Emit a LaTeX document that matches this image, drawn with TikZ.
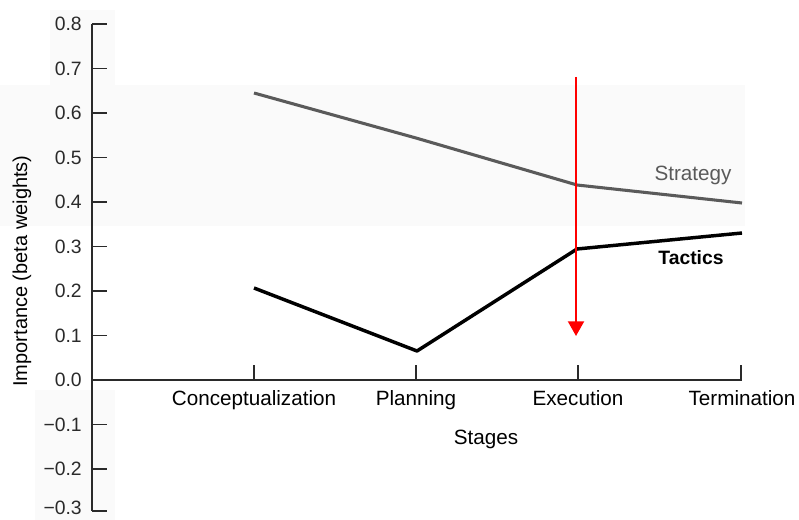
\documentclass[tikz,border=0pt]{standalone}
\usepackage{fontspec}
\setmainfont{Liberation Sans}
\usetikzlibrary{arrows.meta}
\definecolor{stratgray}{HTML}{5A5A5A}
\definecolor{axisgray}{HTML}{2A2A2A}
\definecolor{bandgray}{HTML}{FAFAFA}
\tikzset{
  ticklab/.style={anchor=east, inner sep=0pt, font=\fontsize{14.5}{17}\selectfont, text=axisgray},
  stagelab/.style={anchor=base, inner sep=0pt, font=\fontsize{15.5}{18}\selectfont},
  axisline/.style={draw=axisgray, line width=1.2pt},
  strategyline/.style={draw=stratgray, line width=2.3pt, line join=round},
  tacticsline/.style={draw=black, line width=2.6pt, line join=round},
  marker/.style={draw=red, line width=1.5pt, -{Triangle[width=12pt,length=11pt]}}
}
\begin{document}
\begin{tikzpicture}[x={(0.75pt,0)}, y={(0,-0.75pt)}]
\useasboundingbox (0,0) rectangle (799,520);
% faint shaded backing areas
\fill[bandgray] (0,85) rectangle (745,226);
\fill[bandgray] (50,10) rectangle (115,85);
\fill[bandgray] (35,390) rectangle (115,520);

% axes
\coordinate (ytop) at (92,24);
\coordinate (ybot) at (92,511);
\coordinate (xend) at (742,380);
\draw[axisline] (ytop) -- (ybot);
\draw[axisline] (92,380) -- (xend);

% vertical axis ticks and labels
\foreach \v/\lab in {0.8/0.8,0.7/0.7,0.6/0.6,0.5/0.5,0.4/0.4,0.3/0.3,0.2/0.2,0.1/0.1,0.0/0.0,-0.1/{−0.1},-0.2/{−0.2},-0.3/{−0.3}}{
  \pgfmathsetmacro\yy{380-445*\v}
  \pgfmathsetmacro\ly{min(\yy,508)}
  \draw[axisline] (92,{min(\yy,511)}) -- (107,{min(\yy,511)});
  \node[ticklab] (t\v) at (82,\ly) {\lab};
}

% stage ticks
\foreach \x/\n in {254/c,416/p,578/e,741/t}{
  \coordinate (s\n) at (\x,380);
  \draw[axisline] (s\n) -- ++(0,-15);
}
\node[stagelab] (lc) at (254,405) {Conceptualization};
\node[stagelab] (lp) at (416,405) {Planning};
\node[stagelab] (le) at (578,405) {Execution};
\node[stagelab] (lt) at (742,405) {Termination};
\node[stagelab] (stages) at (486,444) {Stages};

\node[inner sep=0pt, rotate=90, font=\fontsize{15}{18}\selectfont] (ytitle) at (22,271) {Importance (beta weights)};

% data points
\coordinate (a1) at (254,93);
\coordinate (a2) at (416,138);
\coordinate (a3) at (577,185);
\coordinate (a4) at (742,203);
\coordinate (b1) at (254,288);
\coordinate (b2) at (417,351);
\coordinate (b3) at (577,249);
\coordinate (b4) at (742,233);

\draw[strategyline] (a1) -- (a2) -- (a3) -- (a4);
\draw[tacticsline] (b1) -- (b2) -- (b3) -- (b4);

\node[inner sep=0pt, text=stratgray, font=\fontsize{15.5}{18}\selectfont] (strat) at (693,175) {Strategy};
\node[inner sep=0pt, font=\bfseries\fontsize{14.5}{18}\selectfont] (tact) at (691,258) {Tactics};

% red marker arrow
\coordinate (m1) at (576,77);
\coordinate (m2) at (576,336);
\draw[marker] (m1) -- (m2);
\end{tikzpicture}
\end{document}
